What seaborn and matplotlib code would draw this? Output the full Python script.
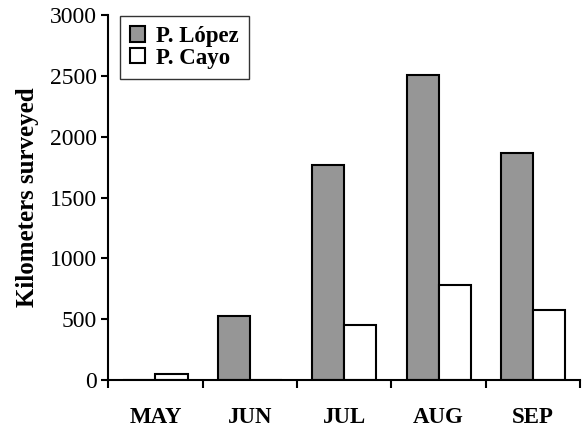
import seaborn as sns
import pandas as pd
import matplotlib.pyplot as plt

months = ["MAY", "JUN", "JUL", "AUG", "SEP"]
lopez_km = [0, 530, 1770, 2505, 1865]
cayo_km = [50, 0, 450, 785, 575]
series_names = ["P. López", "P. Cayo"]
y_ticks = [0, 500, 1000, 1500, 2000, 2500, 3000]


def main():
    sns.set_style("ticks", {"axes.edgecolor": "black", "text.color": "black",
                            "xtick.color": "black", "ytick.color": "black",
                            "axes.labelcolor": "black"})
    plt.rcParams["font.family"] = ["Liberation Serif", "DejaVu Serif"]

    df = pd.DataFrame({
        "month": months * 2,
        "km": lopez_km + cayo_km,
        "site": [series_names[0]] * len(months) + [series_names[1]] * len(months),
    })

    fig, ax = plt.subplots(figsize=(5.82, 4.30), dpi=100)
    sns.barplot(data=df, x="month", y="km", hue="site", order=months,
                hue_order=series_names, palette=["#969696", "white"],
                width=0.68, edgecolor="black", linewidth=1.5, saturation=1,
                ax=ax)

    ax.set_xlim(-0.5, 4.5)
    ax.set_ylim(0, 3000)
    ax.set_yticks(y_ticks)
    ax.set_yticklabels([str(t) for t in y_ticks], fontsize=17)
    ax.set_xticks(range(len(months)))
    ax.set_xticklabels(months, fontsize=16.5, fontweight="bold")
    ax.set_xticks([i - 0.5 for i in range(len(months) + 1)], minor=True)
    ax.tick_params(axis="x", which="major", length=0, pad=19)
    ax.tick_params(axis="x", which="minor", length=6, width=1.5, direction="out")
    ax.tick_params(axis="y", length=5, width=1.5, direction="out", pad=3)
    ax.set_xlabel("")
    ax.set_ylabel("Kilometers surveyed", fontsize=18, fontweight="bold", labelpad=8)

    for side in ["top", "right"]:
        ax.spines[side].set_visible(False)
    for side in ["left", "bottom"]:
        ax.spines[side].set_linewidth(1.5)

    leg = ax.legend(loc="upper left", bbox_to_anchor=(0.025, 0.998), frameon=True,
                    fancybox=False, handlelength=0.65, handleheight=0.65,
                    handletextpad=0.45, borderpad=0.45, labelspacing=0.02,
                    borderaxespad=0, prop={"size": 16.5, "weight": "bold"})
    leg.get_frame().set_edgecolor("black")
    leg.get_frame().set_linewidth(1.0)

    fig.subplots_adjust(left=0.186, right=0.997, bottom=0.116, top=0.965)
    fig.savefig("out.png", dpi=100)


if __name__ == "__main__":
    main()
